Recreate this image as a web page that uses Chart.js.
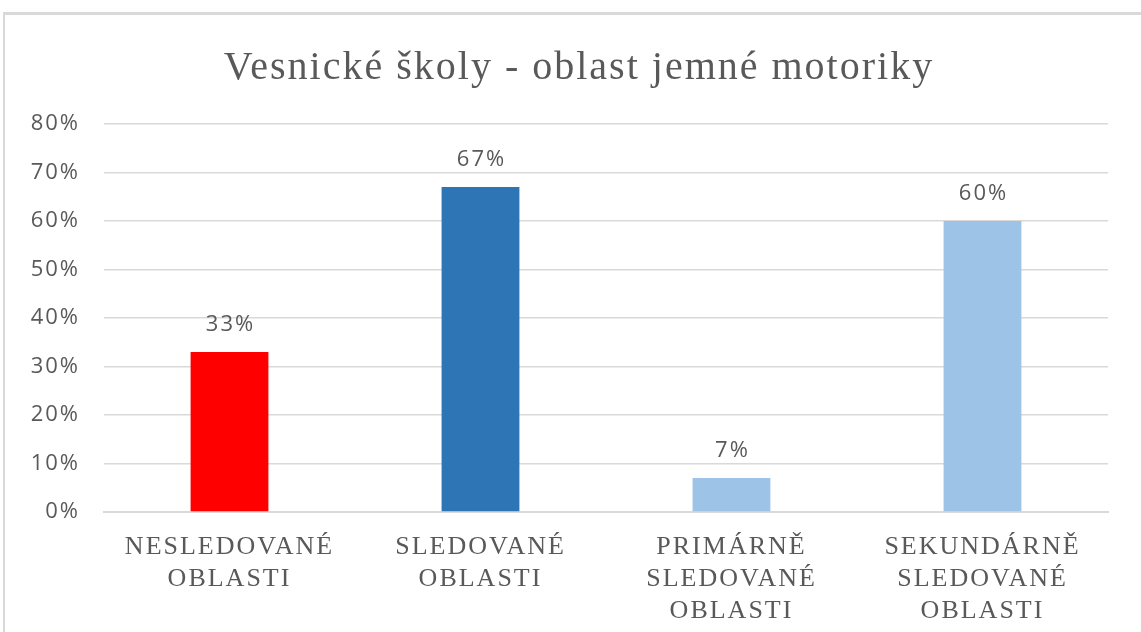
<!DOCTYPE html>
<html>
<head>
<meta charset="utf-8">
<script src="https://cdn.jsdelivr.net/npm/chart.js@4"></script>
<style>
  html, body { margin: 0; padding: 0; background: #fff; }
  body { width: 1141px; height: 632px; position: relative; overflow: hidden; }
  #frame {
    position: absolute; left: 3px; top: 12px; width: 1200px; height: 700px;
    border-top: 3px solid #d9d9d9; border-left: 2px solid #d9d9d9;
  }
  #wrap { position: absolute; left: 0; top: 0; width: 1141px; height: 632px; }
</style>
</head>
<body>
<div id="frame"></div>
<div id="wrap"><canvas id="chart"></canvas></div>
<script>
const categories = [
  ["NESLEDOVANÉ", "OBLASTI"],
  ["SLEDOVANÉ", "OBLASTI"],
  ["PRIMÁRNĚ", "SLEDOVANÉ", "OBLASTI"],
  ["SEKUNDÁRNĚ", "SLEDOVANÉ", "OBLASTI"]
];
const values = [33, 67, 7, 60];
const barColors = ["#ff0000", "#2e75b6", "#9dc3e6", "#9dc3e6"];
const yTicks = [0, 10, 20, 30, 40, 50, 60, 70, 80];

const textGray = "#595959";

// the original text is spread a bit wider than normal
const wideText = {
  id: "wideText",
  beforeDraw(chart) { chart.ctx.letterSpacing = "2px"; }
};

// title sits a little right of the canvas middle, over the plot
const shiftTitle = {
  id: "shiftTitle",
  afterLayout(chart) {
    if (chart.titleBlock) chart.titleBlock.left = 50;
  }
};

// labels above the bars
const valueLabels = {
  id: "valueLabels",
  afterDatasetsDraw(chart) {
    const ctx = chart.ctx;
    const meta = chart.getDatasetMeta(0);
    ctx.save();
    ctx.font = "22px 'Open Sans'";
    ctx.fillStyle = textGray;
    ctx.textAlign = "center";
    ctx.textBaseline = "middle";
    meta.data.forEach((bar, i) => {
      ctx.fillText(values[i] + "%", bar.x + 1, bar.y - 27);
    });
    ctx.restore();
  }
};

new Chart(document.getElementById("chart"), {
  type: "bar",
  data: {
    labels: categories,
    datasets: [{
      data: values,
      backgroundColor: barColors,
      categoryPercentage: 1,
      barPercentage: 0.31
    }]
  },
  options: {
    responsive: true,
    maintainAspectRatio: false,
    animation: false,
    layout: { padding: { left: 0, right: 33, top: 0, bottom: 0 } },
    plugins: {
      legend: { display: false },
      tooltip: { enabled: false },
      title: {
        display: true,
        text: "Vesnické školy - oblast jemné motoriky",
        color: textGray,
        font: { family: "'Liberation Serif'", size: 40, weight: "normal", lineHeight: 1.2 },
        padding: { top: 44, bottom: 32 }
      }
    },
    scales: {
      x: {
        grid: { display: false },
        border: { color: "#d9d9d9", width: 2 },
        ticks: {
          color: textGray,
          padding: 11,
          maxRotation: 0,
          autoSkip: false,
          font: { family: "'Liberation Serif'", size: 26, lineHeight: 1.23 }
        },
        afterFit(scale) { scale.height = 120; }
      },
      y: {
        min: 0,
        max: 80,
        afterBuildTicks(scale) { scale.ticks = yTicks.map(v => ({ value: v })); },
        grid: { color: "#d9d9d9", lineWidth: 1.5, drawTicks: false },
        border: { display: false },
        ticks: {
          color: textGray,
          padding: 24,
          font: { family: "'Open Sans'", size: 22 },
          callback: v => v + "%"
        },
        afterFit(scale) { scale.width = 104; }
      }
    }
  },
  plugins: [wideText, shiftTitle, valueLabels]
});
</script>
</body>
</html>
